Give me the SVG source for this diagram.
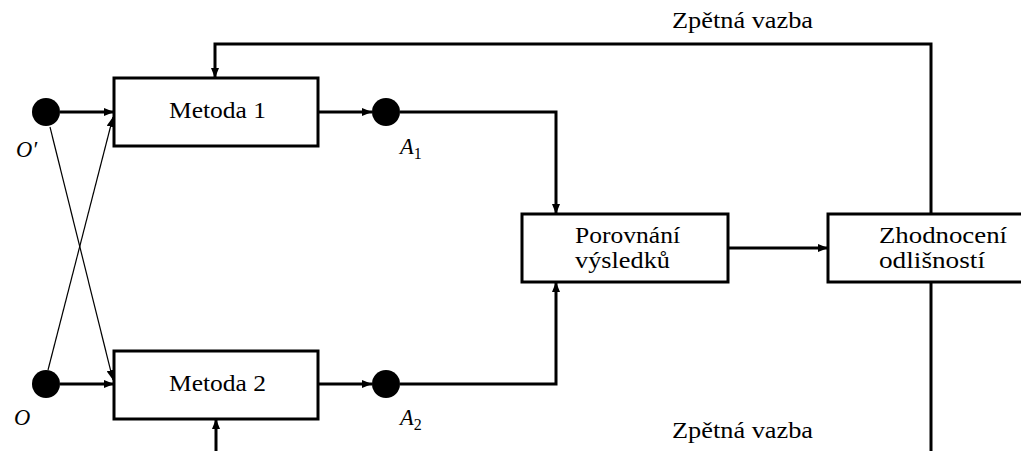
<svg xmlns="http://www.w3.org/2000/svg" width="1021" height="451" viewBox="0 0 1021 451">
<style>
.box{fill:#fff;stroke:#000;stroke-width:3}
.thick{fill:none;stroke:#000;stroke-width:3}
.thin{fill:none;stroke:#000;stroke-width:1.2}
.dot{fill:#000}
text{font-family:'Liberation Serif','Times New Roman',serif;font-size:22.5px;fill:#000}
.m{font-style:italic}
.sub{font-style:normal;font-size:16px}
</style>
<defs>
<marker id="ah" viewBox="0 0 10 8" refX="10" refY="4" markerWidth="10" markerHeight="8" markerUnits="userSpaceOnUse" orient="auto">
<path d="M0,0 L10,4 L0,8 Z" fill="#000"/>
</marker>
</defs>
<g id="connectors">
<path class="thick" d="M60,112 H114" marker-end="url(#ah)"/>
<path class="thick" d="M60,384 H114" marker-end="url(#ah)"/>
<path class="thin" d="M50,127 L113,380" marker-end="url(#ah)"/>
<path class="thin" d="M48,370 L113,117" marker-end="url(#ah)"/>
<path class="thick" d="M318,112 H372" marker-end="url(#ah)"/>
<path class="thick" d="M318,384 H372" marker-end="url(#ah)"/>
<path class="thick" d="M400,112 H556 V214" marker-end="url(#ah)"/>
<path class="thick" d="M400,384 H556 V282" marker-end="url(#ah)"/>
<path class="thick" d="M728,248 H828" marker-end="url(#ah)"/>
<path class="thick" d="M931,214 V44 H215 V78" marker-end="url(#ah)"/>
<path class="thick" d="M931,282 V451"/>
<path class="thick" d="M216,451 V419" marker-end="url(#ah)"/>
</g>
<g id="O1"><circle class="dot" cx="46" cy="112" r="14"/><text class="m" x="16" y="157">O′</text></g>
<g id="O"><circle class="dot" cx="46" cy="384" r="14"/><text class="m" x="14" y="425">O</text></g>
<g id="A1"><circle class="dot" cx="386" cy="112" r="14"/><text class="m" x="400" y="154">A<tspan class="sub" dy="5">1</tspan></text></g>
<g id="A2"><circle class="dot" cx="386" cy="384" r="14"/><text class="m" x="400" y="425">A<tspan class="sub" dy="5">2</tspan></text></g>
<g id="metoda1"><rect class="box" x="114" y="78" width="204" height="68"/><text x="169" y="118" textLength="97" lengthAdjust="spacingAndGlyphs">Metoda 1</text></g>
<g id="metoda2"><rect class="box" x="114" y="351" width="204" height="68"/><text x="169" y="391" textLength="97" lengthAdjust="spacingAndGlyphs">Metoda 2</text></g>
<g id="porovnani"><rect class="box" x="522" y="214" width="206" height="68"/><text x="575" y="243" textLength="105" lengthAdjust="spacingAndGlyphs">Porovnání</text><text x="575" y="268" textLength="95" lengthAdjust="spacingAndGlyphs">výsledků</text></g>
<g id="zhodnoceni"><rect class="box" x="828" y="214" width="220" height="68"/><text x="879" y="243" textLength="128" lengthAdjust="spacingAndGlyphs">Zhodnocení</text><text x="879" y="268" textLength="106" lengthAdjust="spacingAndGlyphs">odlišností</text></g>
<g id="labels"><text x="672" y="28" textLength="141" lengthAdjust="spacingAndGlyphs">Zpětná vazba</text><text x="672" y="438" textLength="141" lengthAdjust="spacingAndGlyphs">Zpětná vazba</text></g>
</svg>
